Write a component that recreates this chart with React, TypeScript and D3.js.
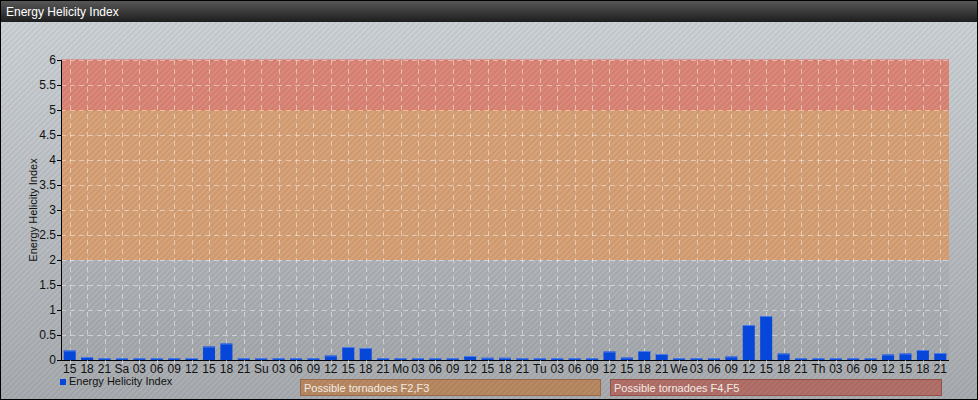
import React from "react";
import * as d3 from "d3";

const categories = [
  "15","18","21",
  "Sa","03","06","09","12","15","18","21",
  "Su","03","06","09","12","15","18","21",
  "Mo","03","06","09","12","15","18","21",
  "Tu","03","06","09","12","15","18","21",
  "We","03","06","09","12","15","18","21",
  "Th","03","06","09","12","15","18","21",
];

const ehiValues = [
  0.19, 0.06, 0.035,
  0.035, 0.035, 0.035, 0.035, 0.04, 0.27, 0.33, 0.035,
  0.035, 0.035, 0.035, 0.035, 0.09, 0.26, 0.24, 0.035,
  0.035, 0.035, 0.035, 0.035, 0.08, 0.045, 0.045, 0.035,
  0.035, 0.035, 0.035, 0.035, 0.17, 0.05, 0.18, 0.12,
  0.035, 0.035, 0.035, 0.07, 0.70, 0.88, 0.13, 0.035,
  0.035, 0.035, 0.035, 0.035, 0.11, 0.13, 0.20, 0.14,
];

const yTicks = [0, 0.5, 1, 1.5, 2, 2.5, 3, 3.5, 4, 4.5, 5, 5.5, 6];

const bands = [
  { from: 2, to: 5, fill: "#dca172", label: "Possible tornadoes F2,F3", legendFill: "#b98a63", legendStroke: "#9a6a48" },
  { from: 5, to: 6, fill: "#e08272", label: "Possible tornadoes F4,F5", legendFill: "#b3716a", legendStroke: "#945048" },
];

const W = 978, H = 400;
const M = { left: 61, right: 949, top: 60, bottom: 360 };
const FONT = "'Liberation Sans', Arial, sans-serif";

export default function App() {
  const x = d3.scaleBand<number>().domain(categories.map((_, i) => i)).range([M.left, M.right]).paddingInner(0.31).paddingOuter(0.155);
  const y = d3.scaleLinear().domain([0, 6]).range([M.bottom, M.top]);
  const center = (i: number) => (x(i) as number) + x.bandwidth() / 2;

  return (
    <svg width={W} height={H} style={{ position: "absolute", left: 0, top: 0 }} fontFamily={FONT}>
      <defs>
        <linearGradient id="bg" x1="0" y1="0" x2="0" y2="1">
          <stop offset="0" stopColor="#d0d5da" />
          <stop offset="1" stopColor="#a9adb1" />
        </linearGradient>
        <linearGradient id="title" x1="0" y1="0" x2="0" y2="1">
          <stop offset="0" stopColor="#5a5a5a" />
          <stop offset="1" stopColor="#1e1e1e" />
        </linearGradient>
        <pattern id="stripes" width="4" height="4" patternUnits="userSpaceOnUse" patternTransform="rotate(45)">
          <rect width="2" height="4" fill="rgba(0,0,0,0.06)" />
        </pattern>
      </defs>
      <rect x={0} y={0} width={W} height={H} fill="url(#bg)" />
      <rect x={0} y={0} width={W} height={H} fill="url(#stripes)" />
      <rect x={0} y={0} width={W} height={22} fill="url(#title)" />
      <text x={6} y={15.5} fill="#ffffff" fontSize={12}>Energy Helicity Index</text>

      <rect x={M.left} y={M.top} width={M.right - M.left} height={M.bottom - M.top} fill="rgba(0,0,0,0.03)" />

      {bands.map((b, i) => (
        <g key={i}>
          <rect x={M.left} y={y(b.to)} width={M.right - M.left} height={y(b.from) - y(b.to)} fill={b.fill} opacity={0.92} />
          <rect x={M.left} y={y(b.to)} width={M.right - M.left} height={y(b.from) - y(b.to)} fill="url(#stripes)" />
          <line x1={M.left} x2={M.right} y1={y(b.to)} y2={y(b.to)} stroke={i === 1 ? "#d86a58" : "#e07a50"} strokeWidth={1} />
        </g>
      ))}

      {yTicks.slice(1).map((t) => (
        <line key={"hg" + t} x1={M.left} x2={M.right} y1={Math.round(y(t)) + 0.5} y2={Math.round(y(t)) + 0.5}
          stroke="rgba(255,255,255,0.45)" strokeDasharray="5,4" />
      ))}
      {categories.map((_, i) => (
        <line key={"vg" + i} x1={Math.round(center(i)) + 0.5} x2={Math.round(center(i)) + 0.5} y1={M.top} y2={M.bottom}
          stroke="rgba(255,255,255,0.45)" strokeDasharray="5,4" />
      ))}

      {ehiValues.map((v, i) => (
        <g key={"b" + i}>
          <rect x={x(i)} y={y(v)} width={x.bandwidth()} height={M.bottom - y(v)} fill="#0647d9" />
          <line x1={x(i)} x2={(x(i) as number) + x.bandwidth()} y1={y(v) + 0.5} y2={y(v) + 0.5} stroke="#4a7be8" />
        </g>
      ))}

      <line x1={M.left + 0.5} x2={M.left + 0.5} y1={M.top} y2={M.bottom + 0.5} stroke="#000" />
      <line x1={M.left} x2={M.right} y1={M.bottom + 0.5} y2={M.bottom + 0.5} stroke="#000" />
      {yTicks.map((t) => (
        <g key={"yt" + t}>
          <line x1={M.left - 4} x2={M.left} y1={Math.round(y(t)) + 0.5} y2={Math.round(y(t)) + 0.5} stroke="#000" />
          <text x={M.left - 5} y={y(t) + 4} textAnchor="end" fontSize={12} fill="#111">{t}</text>
        </g>
      ))}
      {categories.map((c, i) => (
        <g key={"xt" + i}>
          <line x1={Math.round(center(i)) + 0.5} x2={Math.round(center(i)) + 0.5} y1={M.bottom} y2={M.bottom + 4} stroke="rgba(255,255,255,0.5)" />
          <text x={center(i)} y={373} textAnchor="middle" fontSize={12} fill="#111">{c}</text>
        </g>
      ))}
      <text transform={`translate(37,${(M.top + M.bottom) / 2}) rotate(-90)`} textAnchor="middle" fontSize={11} fill="#111">Energy Helicity Index</text>

      <rect x={60} y={379} width={6} height={6} fill="#0647d9" />
      <text x={69} y={385} fontSize={11} fill="#111">Energy Helicity Index</text>

      {[{ x0: 300, x1: 600 }, { x0: 610, x1: 941 }].map((p, i) => (
        <g key={"lg" + i}>
          <rect x={p.x0 + 0.5} y={379.5} width={p.x1 - p.x0} height={16} fill={bands[i].legendFill} stroke={bands[i].legendStroke} />
          <rect x={p.x0 + 1} y={380} width={p.x1 - p.x0 - 1} height={15} fill="url(#stripes)" />
          <text x={p.x0 + 4} y={391.5} fontSize={11} fill="#f2ebe4">{bands[i].label}</text>
        </g>
      ))}

      <rect x={0.5} y={0.5} width={W - 1} height={H - 1} fill="none" stroke="#000" />
    </svg>
  );
}
